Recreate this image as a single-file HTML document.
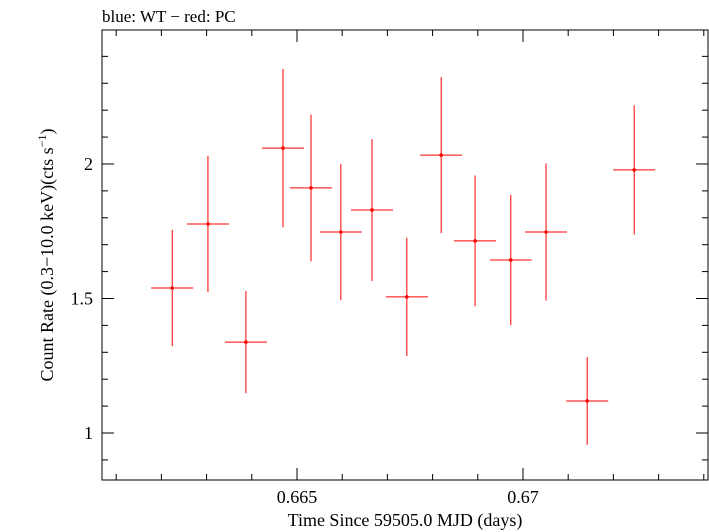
<!DOCTYPE html>
<html><head><meta charset="utf-8"><style>
body{margin:0;background:#fff;}
svg{display:block;font-family:"Liberation Serif",serif;}
</style></head><body>
<svg id="chart" width="709" height="532" viewBox="0 0 709 532">
<text x="102" y="22" font-size="17">blue: WT − red: PC</text>
<rect x="102" y="30" width="606" height="450" fill="none" stroke="#000" stroke-width="1"/>
<g id="axes"></g>
<g id="marks"></g>
<text x="405" y="526" font-size="18" text-anchor="middle">Time Since 59505.0 MJD (days)</text>
<text transform="translate(53,255) rotate(-90)" font-size="18" text-anchor="middle">Count Rate (0.3−10.0 keV)(cts s<tspan dy="-7" font-size="12">−1</tspan><tspan dy="7">)</tspan></text>
</svg>
<script>
const times=[0.66224,0.66303,0.66387,0.66469,0.66531,0.66597,0.66666,0.66743,0.66819,0.66894,0.66973,0.67051,0.67142,0.67246];
const rates=[1.539,1.777,1.338,2.059,1.911,1.747,1.829,1.506,2.033,1.714,1.643,1.747,1.119,1.978];
const rateErr=[0.216,0.253,0.19,0.294,0.273,0.253,0.264,0.22,0.29,0.243,0.242,0.255,0.163,0.24];
const timeErr=[0.000465,0.000465,0.000465,0.000465,0.000465,0.000465,0.000465,0.000465,0.000465,0.000465,0.000465,0.000465,0.000465,0.000465];
const xTicks=[0.665,0.67];
const xTickLabels=["0.665","0.67"];
const yTicks=[1,1.5,2];
const yTickLabels=["1","1.5","2"];
const X0=102,X1=708,Y0=480,Y1=30;
const xMin=0.660686,xMax=0.674093,yMin=0.8253,yMax=2.498;
const sx=v=>X0+(v-xMin)/(xMax-xMin)*(X1-X0);
const sy=v=>Y0-(v-yMin)/(yMax-yMin)*(Y0-Y1);
const NS="http://www.w3.org/2000/svg";
const axes=document.getElementById('axes'),marks=document.getElementById('marks');
function line(p,x1,y1,x2,y2,c,name){const l=document.createElementNS(NS,'line');
l.setAttribute('x1',x1);l.setAttribute('y1',y1);l.setAttribute('x2',x2);l.setAttribute('y2',y2);
l.setAttribute('stroke',c);l.setAttribute('stroke-width',1);


p.appendChild(l);return l;}
function text(x,y,s,anchor,name){const t=document.createElementNS(NS,'text');
t.setAttribute('x',x);t.setAttribute('y',y);t.setAttribute('font-size','18');t.setAttribute('text-anchor',anchor);t.textContent=s;


axes.appendChild(t);}
// minor ticks x
for(let k=Math.ceil(xMin/0.001);k*0.001<=xMax;k++){const v=k*0.001,x=sx(v);
const major=xTicks.some(t=>Math.abs(t-v)<1e-9);const L=major?12:6;
line(axes,x,Y0,x,Y0-L,'#000','x-tick');line(axes,x,Y1,x,Y1+L,'#000','x-tick-top');}
for(let k=Math.ceil(yMin/0.1);k*0.1<=yMax;k++){const v=k*0.1,y=sy(v);
const major=yTicks.some(t=>Math.abs(t-v)<1e-9);const L=major?12:6;
line(axes,X0,y,X0+L,y,'#000','y-tick');line(axes,X1,y,X1-L,y,'#000','y-tick-right');}
xTicks.forEach((v,i)=>text(sx(v),503,xTickLabels[i],'middle','x-tick-label'));
yTicks.forEach((v,i)=>text(93,sy(v)+6,yTickLabels[i],'end','y-tick-label'));
times.forEach((t,i)=>{const x=sx(t),y=sy(rates[i]);
line(marks,sx(t-timeErr[i]),y,sx(t+timeErr[i]),y,'#f00','x-error-bar');
line(marks,x,sy(rates[i]-rateErr[i]),x,sy(rates[i]+rateErr[i]),'#f00','y-error-bar');
const c=document.createElementNS(NS,'circle');c.setAttribute('cx',x);c.setAttribute('cy',y);c.setAttribute('r',1.8);c.setAttribute('fill','#f00');


marks.appendChild(c);});
</script>
</body></html>
